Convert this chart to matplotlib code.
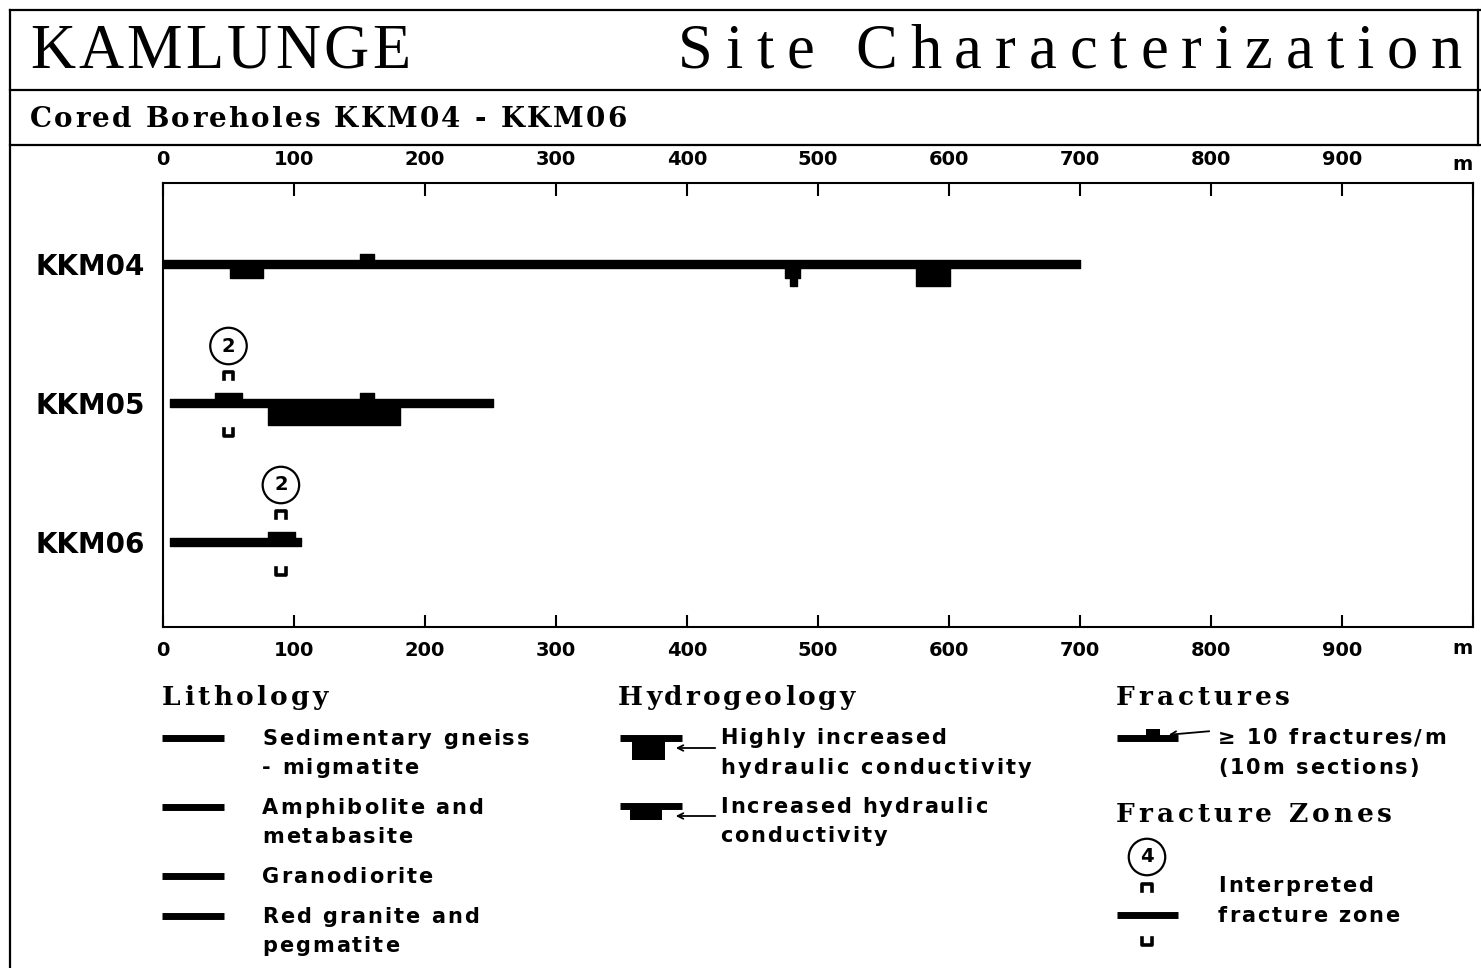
import matplotlib.pyplot as plt
from matplotlib.font_manager import FontProperties
from matplotlib.textpath import TextToPath

# Data
boreholes = ['KKM04', 'KKM05', 'KKM06']
bh_start = [0, 5, 5]          # m
bh_end = [700, 252, 105]      # m

# >= 10 fractures/m (10 m sections)
frac_bh = [0, 1, 1, 2]
frac_start = [150, 40, 150, 80]
frac_end = [161, 60, 161, 101]

# hydraulic conductivity sections ('inc' = increased, 'high' = highly increased)
hyd_bh = [0, 0, 0, 0, 1]
hyd_start = [51, 475, 479, 575, 80]
hyd_end = [76, 486, 484, 601, 181]
hyd_class = ['inc', 'inc', 'high', 'high', 'high']

# interpreted fracture zones
zone_bh = [1, 2]
zone_pos = [50, 90]
zone_id = ['2', '2']

xticks = list(range(0, 1001, 100))
xticklabels = [str(v) for v in range(0, 1000, 100)] + ['']

W, H = 1481, 968
U = 139.0          # pixels per borehole row

fig = plt.figure(figsize=(W / 100, H / 100), dpi=100)

# overlay in pixel coordinates for frame, titles and legend
ov = fig.add_axes([0, 0, 1, 1])
ov.set_xlim(0, W)
ov.set_ylim(H, 0)
ov.axis('off')

_ttp = TextToPath()


def char_w(ch, prop):
    a = _ttp.get_text_width_height_descent('|' + ch + '|', prop, ismath=False)[0]
    b = _ttp.get_text_width_height_descent('||', prop, ismath=False)[0]
    return (a - b) * 100 / 72


def tracked(x, y, s, family='DejaVu Sans', size=15, weight='bold', track=2.0, x1=None):
    # letter-spaced text, one glyph at a time
    prop = FontProperties(family=family, size=size, weight=weight)
    ws = [char_w(c, prop) for c in s]
    if x1 is not None:
        track = (x1 - x - sum(ws)) / (len(s) - 1)
    cx = x
    for c, w in zip(s, ws):
        ov.text(cx, y, c, fontproperties=prop, ha='left', va='baseline')
        cx += w + track


frame = dict(color='black', lw=1.6)
ov.plot([10, W], [10, 10], **frame)
ov.plot([10, 10], [10, H], **frame)
ov.plot([10, W], [90, 90], **frame)
ov.plot([10, W], [145, 145], **frame)
ov.plot([1478, 1478], [10, 145], **frame)

tracked(30, 68, 'KAMLUNGE', family='Liberation Serif', size=45, weight='normal', x1=410)
tracked(678, 68, 'Site Characterization', family='Liberation Serif', size=45,
        weight='normal', x1=1462)
tracked(30, 127, 'Cored Boreholes KKM04 - KKM06', family='DejaVu Serif', size=20,
        weight='bold', x1=627)

# main chart
ax = fig.add_axes([163 / W, (H - 627) / H, 1310 / W, 444 / H])
ax.set_facecolor('none')
ax.set_xlim(0, 1000)
ax.set_ylim(3 + 85 / U, 1 - 81 / U)
rows = [1, 2, 3]

half = 4 / U
for r, s, e in zip(rows, bh_start, bh_end):
    ax.broken_barh([(s, e - s)], (r - half, 2 * half), color='black')

for b, s, e in zip(frac_bh, frac_start, frac_end):
    ax.broken_barh([(s, e - s)], (rows[b] - 10 / U, 10 / U), color='black')

depth = {'inc': 14 / U, 'high': 22 / U}
for b, s, e, c in zip(hyd_bh, hyd_start, hyd_end, hyd_class):
    ax.broken_barh([(s, e - s)], (rows[b], depth[c]), color='black')

hw = 3.6
circ = dict(boxstyle='circle,pad=0.45', fc='white', ec='black', lw=1.6)
for b, p, z in zip(zone_bh, zone_pos, zone_id):
    r = rows[b]
    yt = r - 28 / U
    yb = r + 30 / U
    ax.plot([p - hw, p - hw, p + hw, p + hw],
            [yt + 4 / U, yt - 3 / U, yt - 3 / U, yt + 4 / U], color='black', lw=2.6)
    ax.plot([p - hw, p - hw, p + hw, p + hw],
            [yb - 4 / U, yb + 3 / U, yb + 3 / U, yb - 4 / U], color='black', lw=2.6)
    ax.text(p, r - 57 / U, z, ha='center', va='center', fontsize=14, fontweight='bold',
            bbox=circ)

ax.set_xticks(xticks)
ax.set_xticklabels(xticklabels, fontsize=14, fontweight='bold')
ax.tick_params(axis='x', direction='in', length=9, width=1.5, top=True, bottom=True,
               labeltop=True, labelbottom=True, pad=10)
ax.set_yticks(rows)
ax.set_yticklabels(boreholes, fontsize=20, fontweight='bold')
ax.tick_params(axis='y', length=0, pad=13)
for sp in ax.spines.values():
    sp.set_linewidth(1.5)
ov.text(1463, 165, 'm', ha='center', va='center', fontsize=14, fontweight='bold')
ov.text(1463, 649, 'm', ha='center', va='center', fontsize=14, fontweight='bold')

# legend headings
head = dict(family='DejaVu Serif', size=19, weight='bold')
tracked(162, 705, 'Lithology', x1=328, **head)
tracked(618, 705, 'Hydrogeology', x1=855, **head)
tracked(1116, 705, 'Fractures', x1=1290, **head)
tracked(1116, 822, 'Fracture Zones', x1=1392, **head)

sym = dict(color='black', lw=5, solid_capstyle='butt')
B = 7   # baseline offset from line centre

litho_labels = [['Sedimentary gneiss', '- migmatite'], ['Amphibolite and', 'metabasite'],
                ['Granodiorite'], ['Red granite and', 'pegmatite']]
litho_y = [738, 807, 876, 916]
for lab, y in zip(litho_labels, litho_y):
    ov.plot([162, 224], [y, y], **sym)
    for k, t in enumerate(lab):
        tracked(262, y + k * 29 + B, t)

# hydrogeology symbols
ov.plot([620, 682], [738, 738], **sym)
ov.fill_between([632, 665], 738, 760, color='black', lw=0)
ov.annotate('', xy=(673, 748), xytext=(718, 748),
            arrowprops=dict(arrowstyle='->', color='black', lw=1.3))
tracked(720, 737 + B, 'Highly increased')
tracked(720, 767 + B, 'hydraulic conductivity', track=2.4)

ov.plot([620, 682], [806, 806], **sym)
ov.fill_between([630, 662], 806, 820, color='black', lw=0)
ov.annotate('', xy=(673, 816), xytext=(718, 816),
            arrowprops=dict(arrowstyle='->', color='black', lw=1.3))
tracked(720, 806 + B, 'Increased hydraulic')
tracked(720, 835 + B, 'conductivity')

# fractures symbol
ov.plot([1117, 1178], [738, 738], **sym)
ov.fill_between([1146, 1160], 729, 738, color='black', lw=0)
ov.annotate('', xy=(1166, 735), xytext=(1212, 731),
            arrowprops=dict(arrowstyle='->', color='black', lw=1.3))
tracked(1218, 737 + B, '\u2265 10 fractures/m')
tracked(1218, 767 + B, '(10m sections)')

# fracture zone symbol
ov.text(1147, 857, '4', ha='center', va='center', fontsize=14, fontweight='bold', bbox=circ)
ov.plot([1142, 1142, 1152, 1152], [891, 884, 884, 891], color='black', lw=2.6)
ov.plot([1117, 1178], [915, 915], **sym)
ov.plot([1142, 1142, 1152, 1152], [938, 945, 945, 938], color='black', lw=2.6)
tracked(1218, 885 + B, 'Interpreted')
tracked(1218, 915 + B, 'fracture zone')

plt.savefig('out.png', dpi=100)
